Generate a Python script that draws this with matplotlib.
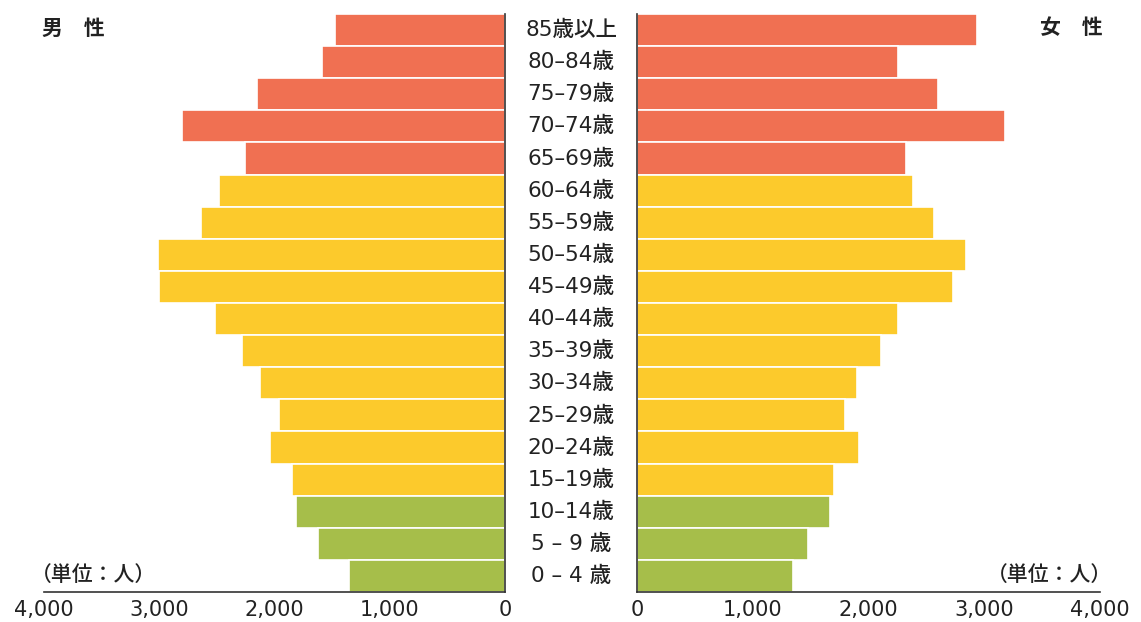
import matplotlib
matplotlib.use("Agg")
import matplotlib.pyplot as plt
import numpy as np

plt.rcParams['font.family'] = ['Noto Sans CJK JP', 'DejaVu Sans']
FUENTE_NUM = ['DejaVu Sans', 'Noto Sans CJK JP']

# 年齢階級（上から）
grupos = ['85歳以上', '80–84歳', '75–79歳', '70–74歳', '65–69歳', '60–64歳',
          '55–59歳', '50–54歳', '45–49歳', '40–44歳', '35–39歳', '30–34歳',
          '25–29歳', '20–24歳', '15–19歳', '10–14歳', '5 – 9 歳', '0 – 4 歳']

hombres = [1475, 1585, 2150, 2800, 2260, 2485, 2635, 3015, 3000, 2520,
           2280, 2130, 1965, 2035, 1850, 1815, 1625, 1355]
mujeres = [2935, 2255, 2600, 3180, 2325, 2385, 2565, 2840, 2730, 2255,
           2105, 1900, 1795, 1915, 1700, 1665, 1475, 1345]

ticks = [0, 1000, 2000, 3000, 4000]
tick_labels = ['0', '1,000', '2,000', '3,000', '4,000']

ROJO = '#F07052'
AMARILLO = '#FCCA2C'
VERDE = '#A6BE4A'
TEXTO = '#222222'


def color_grupo(i):
    # 0-14: verde, 15-64: amarillo, 65+: rojo
    desde_abajo = len(grupos) - 1 - i
    if desde_abajo <= 2:
        return VERDE
    if desde_abajo <= 12:
        return AMARILLO
    return ROJO


fig = plt.figure(figsize=(11.41, 6.22), dpi=100)
ax_h = fig.add_axes([0.0386, 0.0482, 0.4040, 0.9293])
ax_m = fig.add_axes([0.5583, 0.0482, 0.4058, 0.9293])

y = np.arange(len(grupos))[::-1]
colores = [color_grupo(i) for i in range(len(grupos))]

ax_h.barh(y, hombres, height=1.0, color=colores, edgecolor='white', linewidth=1.2)
ax_m.barh(y, mujeres, height=1.0, color=colores, edgecolor='white', linewidth=1.2)

for ax in (ax_h, ax_m):
    ax.set_ylim(-0.5, len(grupos) - 0.5)
    ax.set_xlim(0, 4000)
    ax.set_yticks([])
    ax.set_xticks(ticks)
    ax.set_xticklabels(tick_labels, fontsize=15, color=TEXTO, family=FUENTE_NUM)
    ax.tick_params(axis='x', length=0, pad=6)
    ax.spines['top'].set_visible(False)
    for s in ax.spines.values():
        s.set_color('#333333')
        s.set_linewidth(1.2)

ax_h.invert_xaxis()
ax_h.spines['left'].set_visible(False)
ax_m.spines['right'].set_visible(False)

# etiquetas de edad en el centro
for yi, g in zip(y, grupos):
    fig.text(0.5005, ax_h.transData.transform((0, yi))[1] / fig.bbox.height, g,
             ha='center', va='center', fontsize=15.5, color=TEXTO,
             family=FUENTE_NUM, weight='medium')

fig.text(0.037, 0.955, '男\u3000性', ha='left', va='center', fontsize=15,
         color=TEXTO, weight='bold')
fig.text(0.966, 0.955, '女\u3000性', ha='right', va='center', fontsize=15,
         color=TEXTO, weight='bold')
fig.text(0.027, 0.076, '（単位：人）', ha='left', va='center', fontsize=15,
         color=TEXTO, weight='medium')
fig.text(0.975, 0.076, '（単位：人）', ha='right', va='center', fontsize=15,
         color=TEXTO, weight='medium')

fig.savefig('out.png', dpi=100)
